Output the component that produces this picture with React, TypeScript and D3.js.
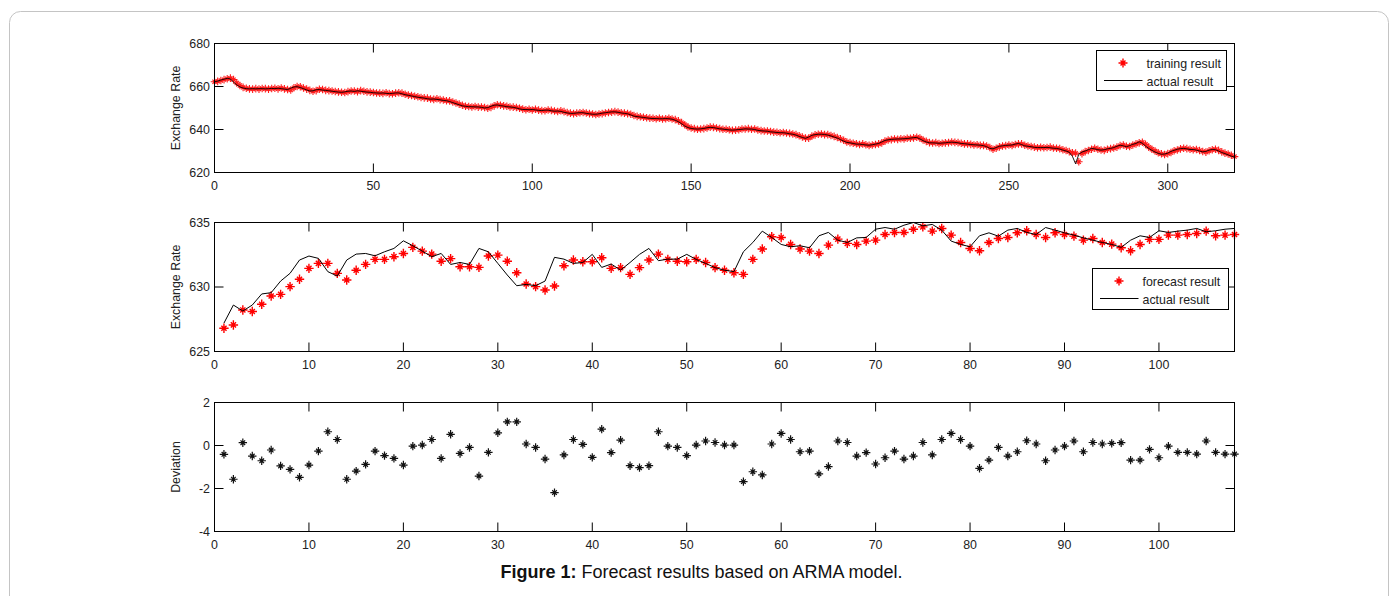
import React from "react";
import * as d3 from "d3";

// training period (index 0..321): actual rate and fitted (training) result
const trainActual = [
  662.2, 662.5, 663.0, 663.4, 663.8, 663.5, 662.0, 660.8, 659.8, 659.3,
  659.0, 658.9, 659.0, 658.9, 659.0, 659.0, 658.9, 659.0, 659.1, 659.0,
  659.2, 659.0, 658.8, 658.6, 659.2, 659.8, 659.9, 659.5, 659.0, 658.4,
  657.9, 658.0, 658.5, 658.6, 658.3, 658.2, 658.0, 657.8, 657.6, 657.4,
  657.3, 657.5, 657.8, 657.9, 657.7, 658.0, 657.8, 657.6, 657.4, 657.3,
  657.1, 657.0, 656.9, 657.0, 656.8, 656.7, 656.8, 657.0, 657.0, 656.6,
  656.2, 655.9, 655.6, 655.3, 655.0, 654.8, 654.6, 654.3, 654.1, 654.2,
  654.0, 653.8, 653.5, 653.4, 653.0, 652.5, 652.0, 651.5, 651.0, 650.8,
  650.6, 650.6, 650.5, 650.5, 650.3, 650.0, 650.2, 650.8, 651.3, 651.4,
  651.1, 650.9, 650.6, 650.5, 650.3, 650.0, 649.6, 649.3, 649.3, 649.2,
  649.3, 649.1, 648.9, 648.8, 649.0, 649.0, 648.7, 648.5, 648.6, 648.4,
  648.0, 647.7, 647.5, 647.5, 647.7, 647.8, 647.8, 647.5, 647.3, 647.1,
  647.1, 647.3, 647.6, 647.8, 648.0, 648.2, 648.2, 648.0, 647.7, 647.5,
  647.3, 646.8, 646.2, 646.0, 645.8, 645.6, 645.4, 645.2, 645.1, 645.1,
  645.0, 645.0, 645.1, 645.0, 644.8, 644.3, 643.6, 642.7, 641.6, 640.9,
  640.5, 640.3, 640.2, 640.3, 640.5, 640.8, 641.0, 640.9, 640.6, 640.3,
  640.2, 640.0, 639.8, 639.7, 639.8, 640.0, 640.1, 640.3, 640.2, 640.2,
  640.0, 639.6, 639.4, 639.3, 639.2, 638.9, 638.8, 638.6, 638.5, 638.5,
  638.3, 638.0, 637.8, 637.4, 636.8, 636.3, 635.9, 636.5, 637.3, 637.6,
  637.8, 637.8, 637.7, 637.4, 637.0, 636.5, 636.0, 635.3, 634.6, 634.0,
  633.8, 633.5, 633.2, 633.2, 633.0, 632.8, 632.7, 632.9, 633.2, 633.5,
  634.2, 634.9, 635.2, 635.4, 635.5, 635.6, 635.6, 635.7, 635.8, 636.0,
  636.2, 636.3, 635.6, 634.8, 634.2, 633.8, 633.8, 633.7, 633.6, 633.7,
  633.8, 634.0, 634.1, 634.0, 633.8, 633.5, 633.4, 633.2, 633.0, 632.9,
  632.8, 632.7, 632.5, 632.0, 631.2, 631.0, 631.6, 632.2, 632.4, 632.6,
  632.7, 632.8, 633.2, 633.5, 633.0, 632.4, 632.2, 632.0, 631.7, 631.6,
  631.6, 631.6, 631.7, 631.5, 631.3, 631.2, 630.9, 630.4, 630.0, 629.4,
  627.5, 624.0, 628.5, 629.5, 630.0, 630.6, 631.2, 631.0, 630.6, 630.4,
  630.6, 631.0, 631.2, 631.6, 632.2, 632.7, 632.4, 632.0, 632.5, 633.1,
  633.5, 634.3, 633.6, 632.3, 631.2, 630.3, 629.5, 628.9, 628.5, 628.6,
  629.0, 629.8, 630.3, 630.8, 631.1, 631.2, 631.0, 630.7, 630.7, 630.4,
  630.0, 629.6, 629.8, 630.4, 630.7, 630.6, 630.0, 629.3, 628.8, 628.2,
  627.6, 627.2,
];

const trainFit = [
  662.2, 662.4, 662.8, 663.2, 663.6, 663.9, 663.2, 661.6, 660.5, 659.6,
  659.2, 658.9, 658.8, 659.0, 658.8, 659.1, 659.0, 658.8, 659.1, 659.2,
  658.9, 659.3, 658.9, 658.6, 658.4, 659.4, 660.0, 659.9, 659.3, 658.8,
  658.2, 657.8, 658.1, 658.7, 658.6, 658.2, 658.1, 657.9, 657.7, 657.5,
  657.3, 657.2, 657.6, 657.9, 657.9, 657.6, 658.1, 657.8, 657.5, 657.4,
  657.2, 657.0, 656.9, 656.8, 657.1, 656.7, 656.6, 656.9, 657.1, 656.9,
  656.4, 656.0, 655.8, 655.5, 655.2, 654.9, 654.7, 654.6, 654.2, 654.0,
  654.3, 653.9, 653.7, 653.4, 653.3, 652.8, 652.3, 651.8, 651.3, 650.8,
  650.7, 650.5, 650.7, 650.4, 650.5, 650.2, 649.9, 650.3, 651.0, 651.5,
  651.3, 651.0, 650.8, 650.5, 650.4, 650.2, 649.9, 649.5, 649.2, 649.4,
  649.1, 649.4, 649.0, 648.8, 648.7, 649.1, 648.9, 648.6, 648.4, 648.7,
  648.3, 647.9, 647.6, 647.4, 647.6, 647.8, 647.9, 647.7, 647.4, 647.2,
  647.0, 647.2, 647.4, 647.7, 647.9, 648.1, 648.3, 648.1, 647.8, 647.6,
  647.4, 647.1, 646.5, 646.1, 645.9, 645.7, 645.5, 645.3, 645.2, 645.0,
  645.2, 644.9, 645.0, 645.2, 644.9, 644.6, 644.0, 643.2, 642.2, 641.2,
  640.7, 640.4, 640.1, 640.2, 640.4, 640.7, 641.1, 641.0, 640.7, 640.4,
  640.1, 640.1, 639.9, 639.6, 639.7, 639.9, 640.2, 640.2, 640.4, 640.1,
  640.2, 639.8, 639.5, 639.3, 639.3, 639.1, 638.8, 638.7, 638.5, 638.6,
  638.4, 638.2, 637.9, 637.6, 637.1, 636.5, 636.0, 636.0, 636.9, 637.5,
  637.8, 637.9, 637.6, 637.6, 637.2, 636.8, 636.3, 635.7, 635.0, 634.2,
  633.9, 633.6, 633.4, 633.0, 633.3, 632.9, 632.6, 632.8, 633.0, 633.3,
  633.8, 634.6, 635.1, 635.3, 635.6, 635.4, 635.7, 635.6, 635.9, 635.9,
  636.1, 636.4, 636.0, 635.1, 634.5, 633.9, 633.7, 633.9, 633.5, 633.6,
  633.8, 633.9, 634.2, 634.0, 633.9, 633.6, 633.3, 633.3, 633.1, 632.8,
  632.9, 632.6, 632.6, 632.3, 631.6, 630.8, 631.3, 631.9, 632.3, 632.5,
  632.8, 632.6, 633.0, 633.3, 633.3, 632.7, 632.3, 632.1, 631.8, 631.5,
  631.7, 631.5, 631.6, 631.8, 631.4, 631.3, 631.1, 630.6, 630.2, 629.7,
  629.2, 629.0, 625.0, 628.8, 629.7, 630.2, 630.8, 631.3, 630.8, 630.5,
  630.3, 630.8, 631.1, 631.4, 631.8, 632.5, 632.8, 632.2, 632.1, 632.8,
  633.3, 633.8, 634.1, 633.1, 631.8, 630.8, 630.0, 629.2, 628.7, 628.4,
  628.8, 629.3, 630.1, 630.5, 631.0, 631.3, 631.1, 630.8, 630.6, 630.7,
  630.2, 629.8, 629.5, 630.1, 630.6, 630.8, 630.3, 629.6, 629.0, 628.6,
  628.0, 627.4,
];

// test period (x = 1..108)
const testActual = [
  627.2, 628.6, 628.14, 628.6, 629.46, 629.56, 630.46, 631.06, 632.09, 632.4,
  632.22, 631.19, 630.85, 632.09, 632.55, 632.6, 632.42, 632.73, 632.99, 633.58,
  633.2, 632.78, 632.35, 632.6, 631.75, 631.9, 631.75, 632.99, 632.73, 631.83,
  630.93, 630.1, 630.2, 630.1, 630.46, 632.3, 632.16, 631.83, 631.9, 632.53,
  631.52, 631.78, 631.31, 631.9, 632.53, 632.99, 632.04, 632.16, 632.16, 632.53,
  632.14, 631.83, 631.5, 631.3, 631.19, 632.73, 633.45, 634.33, 633.84, 633.3,
  633.12, 633.2, 633.04, 633.97, 634.23, 633.63, 633.45, 633.81, 633.84, 634.48,
  634.61, 634.48, 634.79, 635.0, 634.74, 634.85, 634.41, 633.56, 633.3, 633.12,
  633.97, 634.2, 633.94, 634.41, 634.54, 634.23, 634.07, 634.61, 634.41, 634.2,
  634.02, 633.81, 633.63, 633.45, 633.3, 633.07, 633.63, 633.97, 633.84, 634.36,
  634.23, 634.33, 634.41, 634.54, 634.28, 634.36, 634.48, 634.54,
];

const testForecast = [
  626.8, 627.06, 628.22, 628.1, 628.66, 629.3, 629.43, 630.03, 630.6, 631.44,
  631.83, 631.83, 631.06, 630.54, 631.3, 631.75, 632.14, 632.14, 632.35, 632.6,
  633.07, 632.78, 632.55, 632.0, 632.2, 631.57, 631.57, 631.52, 632.4, 632.47,
  632.0, 631.1, 630.23, 630.03, 629.77, 630.08, 631.65, 632.09, 631.96, 631.96,
  632.27, 631.44, 631.5, 630.98, 631.5, 632.09, 632.55, 632.14, 632.0, 631.96,
  632.14, 631.9, 631.5, 631.3, 631.1, 630.98, 632.14, 632.94, 633.9, 633.84,
  633.3, 632.94, 632.78, 632.6, 633.25, 633.71, 633.38, 633.3, 633.56, 633.63,
  634.07, 634.23, 634.23, 634.48, 634.66, 634.33, 634.54, 634.02, 633.45, 632.99,
  632.81, 633.45, 633.76, 633.84, 634.2, 634.36, 634.07, 633.84, 634.2, 634.07,
  633.94, 633.63, 633.76, 633.45, 633.32, 633.04, 632.81, 633.3, 633.69, 633.69,
  634.02, 634.02, 634.07, 634.15, 634.33, 633.97, 634.02, 634.07,
];

const deviation = [
  -0.41, -1.57, 0.13, -0.49, -0.71, -0.21, -0.95, -1.11, -1.48, -0.91,
  -0.26, 0.64, 0.28, -1.57, -1.19, -0.88, -0.26, -0.47, -0.6, -0.91,
  -0.03, 0.02, 0.28, -0.6, 0.52, -0.37, -0.09, -1.42, -0.32, 0.59,
  1.1, 1.1, 0.07, -0.09, -0.63, -2.19, -0.44, 0.28, 0.05, -0.55,
  0.76, -0.33, 0.25, -0.94, -1.03, -0.94, 0.64, -0.03, -0.09, -0.47,
  0.02, 0.21, 0.14, 0.02, 0.02, -1.68, -1.22, -1.37, 0.07, 0.56,
  0.28, -0.29, -0.26, -1.32, -0.98, 0.21, 0.14, -0.49, -0.33, -0.86,
  -0.57, -0.26, -0.63, -0.49, 0.14, -0.44, 0.28, 0.56, 0.28, -0.03,
  -1.06, -0.68, -0.09, -0.49, -0.29, 0.22, 0.07, -0.71, -0.21, -0.03,
  0.21, -0.29, 0.14, 0.07, 0.1, 0.13, -0.68, -0.68, -0.18, -0.57,
  -0.03, -0.32, -0.32, -0.4, 0.21, -0.32, -0.4, -0.4,
];

const trainXTicks = [0, 50, 100, 150, 200, 250, 300];
const testXTicks = [0, 10, 20, 30, 40, 50, 60, 70, 80, 90, 100];
const rateTicksTrain = [620, 640, 660, 680];
const rateTicksTest = [625, 630, 635];
const devTicks = [-4, -2, 0, 2];

const W = 1398;
const H = 596;
const LEFT = 214.5;
const RIGHT = 1234.5;
const FONT = "Arial, 'Liberation Sans', Helvetica, sans-serif";
const TICK = 9;

// matlab-ish '*' marker: long + arms, shorter diagonals
function star(r: number) {
  const d = r * 0.55;
  return `M${-r},0H${r}M0,${-r}V${r}M${-d},${-d}L${d},${d}M${-d},${d}L${d},${-d}`;
}

type AxesProps = {
  top: number;
  bottom: number;
  x: d3.ScaleLinear<number, number>;
  y: d3.ScaleLinear<number, number>;
  xTicks: number[];
  yTicks: number[];
  label: string;
  children?: React.ReactNode;
};

function Axes({ top, bottom, x, y, xTicks, yTicks, label, children }: AxesProps) {
  const mid = (top + bottom) / 2;
  return (
    <g>
      {children}
      <rect x={LEFT} y={top} width={RIGHT - LEFT} height={bottom - top} fill="none" stroke="#000" strokeWidth={1} />
      {xTicks.map((t) => (
        <g key={"x" + t}>
          <line x1={x(t)} x2={x(t)} y1={bottom} y2={bottom - TICK} stroke="#000" />
          <line x1={x(t)} x2={x(t)} y1={top} y2={top + TICK} stroke="#000" />
          <text x={x(t)} y={bottom + 17} textAnchor="middle" fontSize={12.4} fontFamily={FONT} fill="#222">
            {t}
          </text>
        </g>
      ))}
      {yTicks.map((t) => (
        <g key={"y" + t}>
          <line x1={LEFT} x2={LEFT + TICK} y1={y(t)} y2={y(t)} stroke="#000" />
          <line x1={RIGHT} x2={RIGHT - TICK} y1={y(t)} y2={y(t)} stroke="#000" />
          <text x={210} y={y(t) + 4.3} textAnchor="end" fontSize={12.4} fontFamily={FONT} fill="#222">
            {t}
          </text>
        </g>
      ))}
      <text
        transform={`translate(180,${mid}) rotate(-90)`}
        textAnchor="middle"
        fontSize={12.4}
        fontFamily={FONT}
        fill="#222"
      >
        {label}
      </text>
    </g>
  );
}

function Legend({ x0, y0, w, h, first }: { x0: number; y0: number; w: number; h: number; first: string }) {
  return (
    <g>
      <rect x={x0} y={y0} width={w} height={h} fill="#fff" stroke="#000" />
      <path d={star(4.5)} transform={`translate(${x0 + 26.5},${y0 + 12.5})`} stroke="#ff0000" strokeWidth={1.4} fill="none" />
      <text x={x0 + 50} y={y0 + 17} fontSize={12.4} fontFamily={FONT} fill="#222">
        {first}
      </text>
      <line x1={x0 + 7.5} x2={x0 + 46} y1={y0 + 30} y2={y0 + 30} stroke="#000" />
      <text x={x0 + 50} y={y0 + 35.5} fontSize={12.4} fontFamily={FONT} fill="#222">
        actual result
      </text>
    </g>
  );
}

export default function App() {
  const p1 = { top: 43.5, bottom: 172.5 };
  const p2 = { top: 222.5, bottom: 351.5 };
  const p3 = { top: 402.5, bottom: 531.5 };

  const x1 = d3.scaleLinear().domain([0, 321]).range([LEFT, RIGHT]);
  const y1 = d3.scaleLinear().domain([620, 680]).range([p1.bottom, p1.top]);
  const x2 = d3.scaleLinear().domain([0, 108]).range([LEFT, RIGHT]);
  const y2 = d3.scaleLinear().domain([625, 635]).range([p2.bottom, p2.top]);
  const y3 = d3.scaleLinear().domain([-4, 2]).range([p3.bottom, p3.top]);

  const line1 = d3
    .line<number>()
    .x((_, i) => x1(i))
    .y((d) => y1(d));
  const line2 = d3
    .line<number>()
    .x((_, i) => x2(i + 1))
    .y((d) => y2(d));

  const redStar = star(3.8);
  const bigStar = star(4.7);
  const devStar = star(4.2);

  return (
    <svg width={W} height={H} style={{ position: "absolute", left: 0, top: 0, background: "#fff" }}>
      <rect x={9.5} y={11.5} width={1379} height={620} rx={11} fill="#fff" stroke="#c4c4c4" />

      <Axes top={p1.top} bottom={p1.bottom} x={x1} y={y1} xTicks={trainXTicks} yTicks={rateTicksTrain} label="Exchange Rate">
        {trainFit.map((d, i) => (
          <path key={i} d={redStar} transform={`translate(${x1(i)},${y1(d)})`} stroke="#ff1a1a" strokeWidth={1.1} fill="none" />
        ))}
        <path d={line1(trainActual) || ""} fill="none" stroke="#000" strokeWidth={0.9} />
      </Axes>
      <Legend x0={1096.5} y0={50.5} w={130} h={40} first="training result" />

      <Axes top={p2.top} bottom={p2.bottom} x={x2} y={y2} xTicks={testXTicks} yTicks={rateTicksTest} label="Exchange Rate">
        {testForecast.map((d, i) => (
          <path key={i} d={bigStar} transform={`translate(${x2(i + 1)},${y2(d)})`} stroke="#ff0000" strokeWidth={1.4} fill="none" />
        ))}
        <path d={line2(testActual) || ""} fill="none" stroke="#000" strokeWidth={1} />
      </Axes>
      <Legend x0={1092.5} y0={268.5} w={136} h={41} first="forecast result" />

      <Axes top={p3.top} bottom={p3.bottom} x={x2} y={y3} xTicks={testXTicks} yTicks={devTicks} label="Deviation">
        {deviation.map((d, i) => (
          <path key={i} d={devStar} transform={`translate(${x2(i + 1)},${y3(d)})`} stroke="#111" strokeWidth={1.2} fill="none" />
        ))}
      </Axes>

      <text x={701.5} y={577.7} textAnchor="middle" fontSize={18} fontFamily={FONT} fill="#111">
        <tspan fontWeight="bold">Figure 1:</tspan>
        <tspan> Forecast results based on ARMA model.</tspan>
      </text>
    </svg>
  );
}
